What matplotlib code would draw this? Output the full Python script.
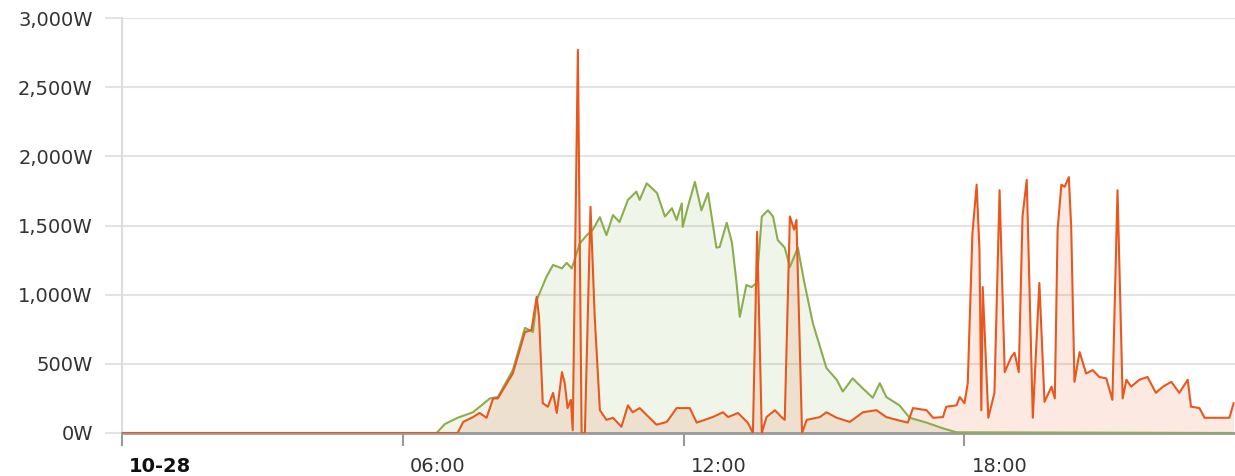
import numpy as np
import matplotlib.pyplot as plt
import matplotlib.transforms as mtransforms

# hours since midnight, watts
solar_h = [0.0, 6.72, 6.90, 7.17, 7.50, 7.86, 8.03, 8.35, 8.61, 8.78, 8.86, 9.07, 9.21, 9.40, 9.50,
           9.61, 9.78, 9.93, 10.06, 10.21, 10.35, 10.49, 10.63, 10.81, 10.99, 11.06, 11.21, 11.43,
           11.60, 11.75, 11.85, 11.96, 11.98, 12.09, 12.24, 12.38, 12.52, 12.70, 12.77, 12.92, 13.03,
           13.13, 13.20, 13.34, 13.45, 13.56, 13.67, 13.80, 13.91, 14.01, 14.16, 14.27, 14.44, 14.58,
           14.76, 15.05, 15.27, 15.40, 15.61, 15.82, 16.04, 16.19, 16.33, 16.61, 16.83, 17.19, 17.53,
           17.83, 23.75]
solar_w = [0, 0, 65, 110, 150, 250, 260, 455, 760, 730, 960, 1130, 1215, 1190, 1230,
           1190, 1370, 1430, 1470, 1560, 1430, 1575, 1525, 1685, 1745, 1685, 1805, 1735,
           1565, 1625, 1540, 1660, 1490, 1635, 1815, 1610, 1735, 1340, 1345, 1520, 1380,
           1085, 840, 1070, 1055, 1085, 1565, 1610, 1565, 1395, 1340, 1200, 1340, 1085,
           795, 470, 385, 300, 395, 325, 255, 360, 260, 200, 110, 75, 35,
           5, 0]

load_h = [0.0, 7.17, 7.29, 7.50, 7.64, 7.79, 7.93, 8.03, 8.35, 8.61, 8.75, 8.86, 8.91, 8.99, 9.10,
          9.21, 9.29, 9.40, 9.46, 9.52, 9.59, 9.63, 9.74, 9.82, 9.89, 10.01, 10.10, 10.21, 10.35,
          10.49, 10.67, 10.81, 10.91, 11.06, 11.42, 11.64, 11.85, 12.13, 12.28, 12.62, 12.84, 12.95,
          13.16, 13.37, 13.48, 13.57, 13.67, 13.77, 13.95, 14.09, 14.16, 14.27, 14.36, 14.41, 14.53,
          14.63, 14.91, 15.05, 15.27, 15.55, 15.83, 16.12, 16.33, 16.55, 16.79, 16.90, 17.19, 17.33,
          17.54, 17.61, 17.83, 17.90, 18.00, 18.07, 18.17, 18.26, 18.32, 18.36, 18.39, 18.51, 18.64,
          18.75, 18.86, 19.00, 19.07, 19.16, 19.24, 19.33, 19.46, 19.60, 19.71, 19.86, 19.93, 19.99,
          20.07, 20.14, 20.23, 20.28, 20.35, 20.46, 20.60, 20.74, 20.88, 21.03, 21.16, 21.27, 21.38,
          21.46, 21.56, 21.74, 21.91, 22.09, 22.24, 22.42, 22.59, 22.77, 22.84, 23.02, 23.13, 23.66,
          23.75]
load_w = [0, 0, 80, 115, 145, 110, 250, 250, 430, 730, 745, 985, 840, 215, 190,
          290, 145, 440, 360, 180, 240, 20, 2770, 0, 0, 1635, 840, 165, 95,
          110, 45, 200, 150, 180, 60, 80, 180, 180, 75, 115, 150, 115,
          145, 75, 0, 1455, 0, 115, 165, 115, 95, 1565, 1470, 1540, 0,
          95, 115, 150, 110, 80, 150, 165, 115, 95, 75, 180, 165, 110,
          115, 190, 200, 260, 215, 360, 1445, 1795, 1325, 165, 1055, 110, 290,
          1755, 440, 550, 580, 440, 1565, 1830, 110, 1085, 225, 335, 250, 1470,
          1795, 1780, 1850, 1490, 370, 585, 430, 455, 405, 395, 240, 1755, 250,
          385, 335, 385, 405, 290, 335, 370, 290, 385, 190, 180, 110, 110,
          215]

y_ticks = [0, 500, 1000, 1500, 2000, 2500, 3000]
y_labels = ['0W', '500W', '1,000W', '1,500W', '2,000W', '2,500W', '3,000W']
x_ticks = [0, 6, 12, 18]
x_labels = ['10-28', '06:00', '12:00', '18:00']

green = '#8aae4f'
orange = '#e8581e'

W, H = 1235, 476
fig = plt.figure(figsize=(W / 100, H / 100), dpi=100)
ax = fig.add_axes([122 / W, (476 - 433) / H, (1235 - 122) / W, (433 - 18) / H])

ax.fill_between(solar_h, solar_w, 0, color=green, alpha=0.12, lw=0)
ax.fill_between(load_h, load_w, 0, color=orange, alpha=0.13, lw=0)
ax.plot(solar_h, solar_w, color=green, lw=1.5, zorder=3)
ax.plot(load_h, load_w, color=orange, lw=1.5, zorder=4)

ax.set_xlim(0, 23.78)
ax.set_ylim(0, 3000)

ax.set_yticks(y_ticks)
ax.set_yticklabels(y_labels)
ax.yaxis.grid(True, color='#e3e3e3', lw=1.5)
ax.set_axisbelow(True)
ax.tick_params(axis='y', length=12, width=1.5, color='#e3e3e3', pad=9,
               labelsize=14, labelcolor='#333333')

ax.set_xticks(x_ticks)
ax.set_xticklabels(x_labels)
ax.tick_params(axis='x', length=9, width=1.5, color='#999999', pad=8,
               labelsize=14, labelcolor='#333333')
offset = mtransforms.ScaledTranslation(7 / 100, 0, fig.dpi_scale_trans)
for lab in ax.get_xticklabels():
    lab.set_horizontalalignment('left')
    lab.set_transform(lab.get_transform() + offset)
ax.get_xticklabels()[0].set_fontweight('bold')
ax.get_xticklabels()[0].set_color('#111111')

for s in ['top', 'right']:
    ax.spines[s].set_visible(False)
ax.spines['left'].set_color('#dddddd')
ax.spines['left'].set_linewidth(1.5)
ax.spines['bottom'].set_color('#999999')
ax.spines['bottom'].set_linewidth(2)

fig.savefig('out.png', dpi=100)
